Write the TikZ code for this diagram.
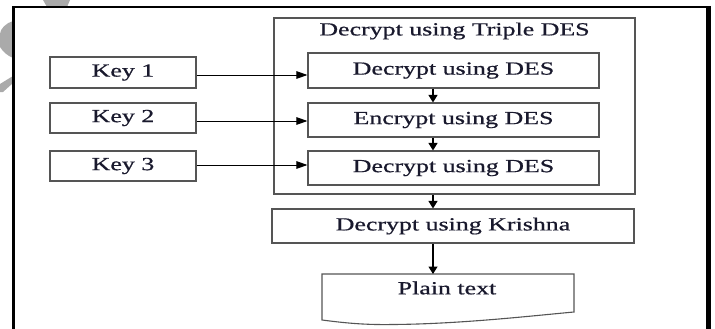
\documentclass[tikz,border=0pt]{standalone}
\usepackage{fontspec}
\usepackage{graphicx}
\setmainfont{Liberation Serif}[UprightFeatures={FakeBold=0.6}]
\usetikzlibrary{arrows.meta}
\definecolor{ink}{RGB}{25,25,45}
\definecolor{edge}{RGB}{85,85,85}
\definecolor{greymark}{RGB}{170,170,170}
% wide-set label text
\newcommand\wtext[1]{\scalebox{1.4}[1]{#1}}
\tikzset{
  box/.style={draw=edge, line width=1.1pt, inner sep=0pt, fill=white,
    font=\fontsize{18.5}{20}\selectfont, text=ink},
  lbl/.style={inner sep=0pt, font=\fontsize{18.5}{20}\selectfont, text=ink},
  keyarrow/.style={draw=black, line width=0.9pt, -{Triangle[length=11pt,width=7.5pt]}},
  downarrow/.style={draw=black, line width=1.2pt, -{Triangle[length=7.5pt,width=9pt]}},
}
\begin{document}
\begin{tikzpicture}[x=1pt, y=-1pt]
\useasboundingbox (0,0) rectangle (715,329);
\clip (0,0) rectangle (715,329);

% grey mark behind the frame corner
\fill[greymark] (43,0) -- (70,0) -- (67,7) -- (47,7) -- cycle;
\fill[greymark] (13,21) .. controls (6,23) and (0,29) .. (0,34) -- (0,47)
  .. controls (3,52) and (8,56) .. (13,58) -- cycle;
\fill[greymark] (0,84) -- (13,76) -- (13,83) -- (3,92) -- (0,92) -- cycle;

% frame
\fill[white] (13.5,7) rectangle (708.5,340);
\draw[line width=3pt] (13.5,340) -- (13.5,5.8);
\draw[line width=2.5pt] (12,7) -- (711,7);
\draw[line width=5pt] (708.5,5.8) -- (708.5,340);

% key boxes
\node[box, minimum width=146pt, minimum height=31pt] (k1) at (123,72.5) {\wtext{Key 1}};
\node[box, minimum width=146pt, minimum height=30pt] (k2) at (123,118) {\wtext{Key 2}};
\node[box, minimum width=146pt, minimum height=30pt] (k3) at (123,166) {\wtext{Key 3}};

% triple DES group
\node[box, minimum width=361pt, minimum height=176pt] (triple) at (454.5,106) {};
\node[lbl] (title) at (454.5,31) {\wtext{Decrypt using Triple DES}};
\node[box, minimum width=291pt, minimum height=35pt] (d1) at (453.5,70.5) {\wtext{Decrypt using DES}};
\node[box, minimum width=291pt, minimum height=34pt] (e2) at (453.5,120) {\wtext{Encrypt using DES}};
\node[box, minimum width=291pt, minimum height=34pt] (d3) at (453.5,168) {\wtext{Decrypt using DES}};

% Krishna stage
\node[box, minimum width=362pt, minimum height=34pt] (kr) at (453,226) {\wtext{Decrypt using Krishna}};

% plain text document shape
\draw[draw=edge, line width=1.1pt] (322,274) -- (574,274) -- (574,312)
  .. controls (530,316) and (460,324) .. (393,324.5)
  .. controls (365,325) and (345,323) .. (322,320) -- cycle;
\node[lbl] (pt) at (447,288) {\wtext{Plain text}};
\coordinate (ptop) at (433,274);
\coordinate (ax) at (433,0);

% key connectors
\draw[keyarrow] (k1.east |- 0,75) -- (d1.west |- 0,75);
\draw[keyarrow] (k2.east |- 0,121) -- (e2.west |- 0,121);
\draw[keyarrow] (k3.east |- 0,165) -- (d3.west |- 0,165);

% flow connectors
\draw[downarrow] (d1.south -| ax) -- (e2.north -| ax);
\draw[downarrow] (e2.south -| ax) -- (d3.north -| ax);
\draw[downarrow] (triple.south -| ax) -- (kr.north -| ax);
\draw[downarrow] (kr.south -| ax) -- (ptop);
\end{tikzpicture}
\end{document}
